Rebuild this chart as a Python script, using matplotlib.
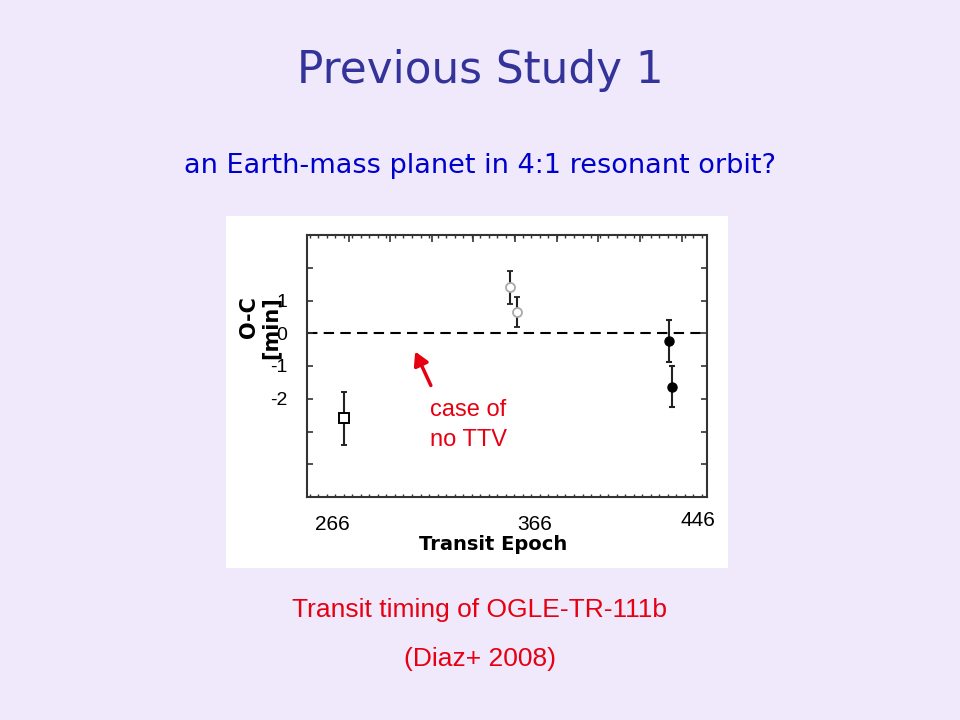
import numpy as np
import matplotlib
matplotlib.use("Agg")
import matplotlib.pyplot as plt
from matplotlib.patches import Rectangle, FancyArrowPatch

# transit timing data (epoch, O-C in min, error)
sq_epoch = [272.0]
sq_oc = [-2.6]
sq_err = [0.8]

open_epoch = [353.7, 357.1]
open_oc = [1.40, 0.65]
open_err = [0.50, 0.46]

fill_epoch = [432.0, 433.5]
fill_oc = [-0.24, -1.63]
fill_err = [0.65, 0.63]

x_tick_vals = [266, 366, 446]
x_tick_labels = ["266", "366", "446"]
y_tick_vals = [1, 0, -1, -2]
y_tick_labels = ["1", "0", "-1", "-2"]

BG = "#EFE9FB"
RED = "#E60012"

fig = plt.figure(figsize=(9.6, 7.2), dpi=100, facecolor=BG)

# white panel behind the figure
fig.patches.append(Rectangle((226 / 960, 1 - 568 / 720), 502 / 960, 352 / 720,
                             transform=fig.transFigure, facecolor="white",
                             edgecolor="none", zorder=-1))

fig.text(0.5, 1 - 70 / 720, "Previous Study 1", ha="center", va="center",
         fontsize=31.5, color="#333399", family="DejaVu Sans")
fig.text(0.5, 1 - 166 / 720, "an Earth-mass planet in 4:1 resonant orbit?",
         ha="center", va="center", fontsize=19.5, color="#0000CC", family="DejaVu Sans")

ax = fig.add_axes([307 / 960, 1 - 497 / 720, 400 / 960, 262 / 720])
ax.set_zorder(2)
ax.set_facecolor("white")
ax.set_xlim(253.7, 450.7)
ax.set_ylim(-5, 3)

ax.axhline(0, color="black", lw=1.5, ls=(0, (5, 3)), zorder=1)

ax.errorbar(sq_epoch, sq_oc, yerr=sq_err, fmt="s", ms=7, mfc="white", mec="black",
            mew=1.4, ecolor="#222222", elinewidth=1.5, capsize=2.5, capthick=1.5, zorder=3)
ax.errorbar(open_epoch, open_oc, yerr=open_err, fmt="o", ms=6.5, mfc="white", mec="#AAAAAA",
            mew=1.3, ecolor="#222222", elinewidth=1.5, capsize=2.5, capthick=1.5, zorder=3)
ax.errorbar(fill_epoch, fill_oc, yerr=fill_err, fmt="o", ms=6.5, mfc="black", mec="black",
            ecolor="#222222", elinewidth=1.5, capsize=2.5, capthick=1.5, zorder=3)

for s in ax.spines.values():
    s.set_color("#333333")
    s.set_linewidth(1.5)

ax.set_xticks(x_tick_vals)
ax.set_xticklabels(x_tick_labels, family="Liberation Sans", fontsize=15)
ax.set_xticks(np.arange(255, 451, 4.2), minor=True)
ax.tick_params(axis="x", which="major", length=0, pad=13)
ax.tick_params(axis="x", which="minor", direction="in", length=2.5, width=1, top=True,
               color="#333333")
ax.get_xticklabels()[2].set_y(0.015)

yt = np.arange(-5, 4)
ax.set_yticks(yt)
ax.set_yticklabels([y_tick_labels[y_tick_vals.index(v)] if v in y_tick_vals else ""
                    for v in yt], family="Liberation Sans", fontsize=14)
ax.tick_params(axis="y", direction="in", length=4, width=1.2, right=True, pad=14,
               color="#333333")

top = ax.secondary_xaxis("top")
top.set_xticks(np.arange(253.7, 451, 20.5))
top.tick_params(direction="in", length=5, width=1.2, labeltop=False, color="#333333")
top.spines["top"].set_visible(False)

ax.text(0.465, -0.183, "Transit Epoch", transform=ax.transAxes, ha="center", va="center",
        fontsize=14, fontweight="bold", family="DejaVu Sans")
ax.text(-0.1175, 0.647, "O-C\n[min]", transform=ax.transAxes, ha="center", va="center",
        rotation=90, multialignment="right", fontsize=15, fontweight="bold",
        family="DejaVu Sans", linespacing=1.1)

ax.text(0.4025, 0.275, "case of\nno TTV", transform=ax.transAxes, ha="center", va="center",
        multialignment="center", fontsize=17, color=RED, family="Liberation Sans",
        linespacing=1.45)
ax.add_patch(FancyArrowPatch(((432 - 307) / 400, (497 - 388) / 262),
                             ((414 - 307) / 400, (497 - 349) / 262),
                             transform=ax.transAxes, arrowstyle="-|>,head_length=8,head_width=4.5",
                             color=RED, lw=2.5, zorder=4))

fig.text(0.5, 1 - 610 / 720, "Transit timing of OGLE-TR-111b", ha="center", va="center",
         fontsize=19, color=RED, family="Liberation Sans")
fig.text(0.5, 1 - 659 / 720, "(Diaz+ 2008)", ha="center", va="center",
         fontsize=19, color=RED, family="Liberation Sans")

fig.savefig("out.png", dpi=100, facecolor=BG)
